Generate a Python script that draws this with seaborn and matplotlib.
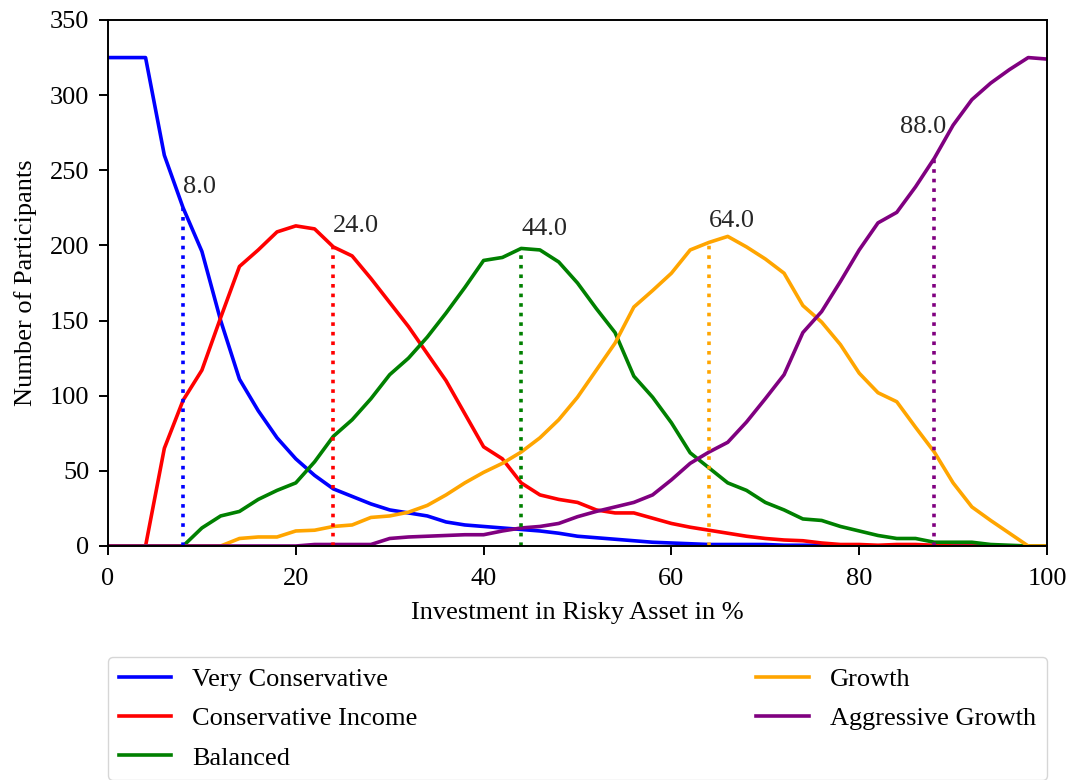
import numpy as np
import pandas as pd
import matplotlib
matplotlib.use("Agg")
import matplotlib.pyplot as plt
import seaborn as sns

# Share of risky asset (%), sampled every 2 points
invest = list(range(0, 101, 2))

very_conservative = [325, 325, 325, 260, 225, 196, 150, 111, 90, 72, 58, 47, 38, 33, 28, 24,
                     22, 20, 16, 14, 13, 12, 11, 10, 8.5, 6.5, 5.5, 4.5, 3.5, 2.5, 2, 1.5,
                     1, 1, 1, 1, 0.5, 0.5, 0.5, 0.5, 0, 0, 0, 0, 0, 0, 0, 0, 0, 0, 0]
conservative_income = [0, 0, 0, 65, 97, 117, 152, 186, 197, 209, 213, 211, 199, 193, 178, 162,
                       146, 128, 110, 88, 66, 58, 42, 34, 31, 29, 24, 22, 22, 18.5, 15, 12.5,
                       10.5, 8.5, 6.5, 5, 4, 3.5, 2, 1, 1, 0.5, 1, 1, 0.5, 0, 0, 0, 0, 0, 0]
balanced = [0, 0, 0, 0, 0, 12, 20, 23, 31, 37, 42, 56, 73, 84, 98, 114,
            125, 139, 155, 172, 190, 192, 198, 197, 189, 175, 158, 142, 113, 99, 82, 62,
            52, 42, 37, 29, 24, 18, 17, 13, 10, 7, 5, 5, 2.5, 2.5, 2.5, 1, 0.5, 0, 0]
growth = [0, 0, 0, 0, 0, 0, 0, 5, 6, 6, 10, 10.5, 13, 14, 19, 20,
          22.5, 27, 34, 42, 49, 55, 62.5, 72, 84, 99, 117, 135, 159, 170, 181.5, 197,
          202, 206, 199, 191, 181.5, 160, 149, 134, 115, 102, 96, 79, 62.5, 42, 26, 17, 8.5, 0, 0]
aggressive_growth = [0, 0, 0, 0, 0, 0, 0, 0, 0, 0, 0, 1, 1, 1, 1, 5,
                     6, 6.5, 7, 7.5, 7.5, 10, 12, 13, 15, 19.5, 23, 26, 29, 34, 44, 55,
                     62.5, 69, 82.5, 98, 114, 142, 156, 176, 197, 215, 222, 239, 258, 280, 297,
                     308, 317, 325, 324]

series_names = ["Very Conservative", "Conservative Income", "Balanced",
                "Growth", "Aggressive Growth"]
series_values = [very_conservative, conservative_income, balanced, growth, aggressive_growth]
series_colors = ["blue", "red", "green", "orange", "purple"]

# Marked allocation for each profile
marker_x = [8.0, 24.0, 44.0, 64.0, 88.0]
# Label placement relative to the marked point (x shift, y shift)
label_shift = [(0, 10), (0, 10), (0, 9), (0, 10), (-3.7, 17)]

plt.rcParams["font.family"] = ["Liberation Serif", "DejaVu Serif"]
plt.rcParams["font.size"] = 19

fig = plt.figure(figsize=(10.69, 7.80), dpi=100)
ax = fig.add_axes([108 / 1069, 1 - 546 / 780, (1047 - 108) / 1069, (546 - 20) / 780])

for name, vals, col in zip(series_names, series_values, series_colors):
    df = pd.DataFrame({"invest": invest, "count": vals})
    sns.lineplot(data=df, x="invest", y="count", color=col, linewidth=2.6,
                 label=name, ax=ax)

for vals, col, mx, (dx, dy) in zip(series_values, series_colors, marker_x, label_shift):
    top = vals[invest.index(int(mx))]
    ax.plot([mx, mx], [0, top], color=col, linestyle=":", linewidth=2.6)
    ax.text(mx + dx, top + dy, f"{mx:.1f}", color="#262626", ha="left", va="baseline")

ax.set_xlim(0, 100)
ax.set_ylim(0, 350)
ax.set_xticks(range(0, 101, 20))
ax.set_yticks(range(0, 351, 50))
ax.set_xlabel("Investment in Risky Asset in %", labelpad=9)
ax.set_ylabel("Number of Participants", labelpad=9)
ax.tick_params(direction="out", length=6.5, width=1.4)
ax.tick_params(axis="x", pad=9)
ax.tick_params(axis="y", pad=7)
for sp in ax.spines.values():
    sp.set_linewidth(1.4)

ax.legend(loc="upper left", bbox_to_anchor=(0, -0.211, 1, 0), mode="expand",
          ncol=2, borderaxespad=0, fontsize=19, labelspacing=0.6)

fig.savefig("out.png", dpi=100)
